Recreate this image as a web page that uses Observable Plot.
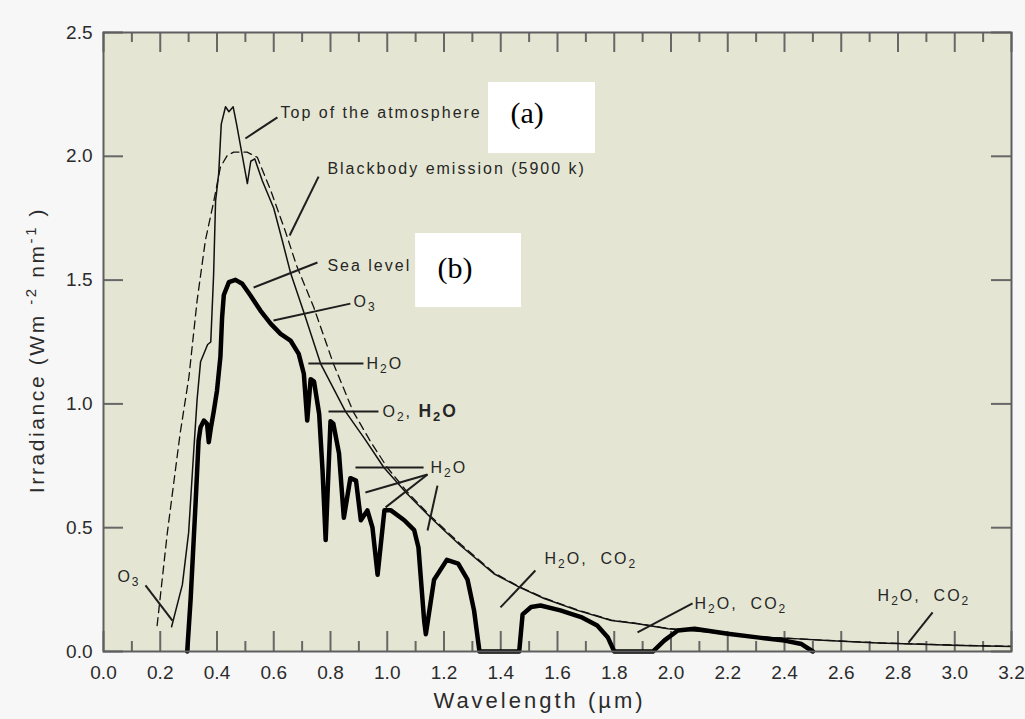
<!DOCTYPE html>
<html><head><meta charset="utf-8">
<script src="https://cdn.jsdelivr.net/npm/d3@7"></script>
<script src="https://cdn.jsdelivr.net/npm/@observablehq/plot@0.6"></script>
<style>
html,body{margin:0;padding:0;background:#f7f7f7;}
#chart{width:1025px;height:719px;overflow:hidden;}
</style></head><body><div id="chart"></div>
<script>
// ---- data (wavelength µm, irradiance W m-2 nm-1) ----
const topOfAtmosphere = [[0.24,0.10],[0.278,0.27],[0.30,0.48],[0.318,0.81],[0.33,1.02],[0.342,1.17],[0.367,1.24],[0.378,1.25],
 [0.388,1.52],[0.395,1.82],[0.406,1.93],[0.415,2.13],[0.43,2.20],[0.442,2.18],[0.457,2.20],[0.469,2.13],[0.507,1.89],
 [0.519,1.98],[0.533,1.99],[0.56,1.90],[0.60,1.79],[0.63,1.66],[0.659,1.53],[0.706,1.37],[0.765,1.163],[0.853,0.969],
 [0.92,0.86],[0.988,0.743],[1.07,0.637],[1.152,0.542],[1.20,0.49],[1.258,0.428],[1.376,0.314],[1.465,0.26],[1.553,0.214],
 [1.67,0.166],[1.79,0.125],[1.883,0.112],[1.99,0.092],[2.14,0.078],[2.32,0.058],[2.435,0.052],[2.55,0.044],[2.73,0.034],
 [2.91,0.028],[3.02,0.024],[3.2,0.02]];
const blackbody5900K = [[0.189,0.105],[0.225,0.48],[0.27,0.88],[0.301,1.108],[0.33,1.418],[0.359,1.66],[0.389,1.82],[0.412,1.956],
 [0.436,2.003],[0.459,2.017],[0.506,2.017],[0.542,1.996],[0.59,1.86],[0.64,1.70],[0.68,1.56],[0.741,1.39],[0.81,1.163],
 [0.88,0.969],[0.94,0.85],[1.0,0.743],[1.07,0.645],[1.154,0.545],[1.26,0.432],[1.376,0.318],[1.465,0.262],[1.553,0.216],
 [1.67,0.168],[1.79,0.127],[1.883,0.113],[1.99,0.093],[2.14,0.079],[2.32,0.059],[2.435,0.052],[2.55,0.045],[2.73,0.035],
 [2.91,0.029],[3.02,0.025],[3.2,0.021]];
const seaLevel = [[0.295,0],[0.307,0.21],[0.325,0.61],[0.335,0.85],[0.342,0.906],[0.354,0.933],[0.365,0.92],[0.371,0.845],
 [0.378,0.90],[0.389,0.973],[0.40,1.054],[0.412,1.19],[0.418,1.35],[0.424,1.44],[0.442,1.492],[0.465,1.501],[0.489,1.485],
 [0.518,1.438],[0.553,1.377],[0.589,1.324],[0.624,1.283],[0.659,1.256],[0.688,1.202],[0.706,1.122],[0.718,0.933],[0.73,1.10],
 [0.742,1.09],[0.76,0.96],[0.772,0.73],[0.783,0.45],[0.80,0.93],[0.81,0.92],[0.83,0.80],[0.847,0.54],[0.87,0.70],[0.89,0.69],
 [0.907,0.53],[0.93,0.57],[0.948,0.50],[0.966,0.31],[0.99,0.57],[1.013,0.57],[1.06,0.53],[1.095,0.49],[1.11,0.42],[1.13,0.125],
 [1.136,0.07],[1.165,0.29],[1.21,0.37],[1.25,0.355],[1.283,0.29],[1.306,0.165],[1.325,0],[1.465,0],[1.477,0.15],[1.507,0.18],
 [1.54,0.186],[1.61,0.166],[1.683,0.139],[1.74,0.105],[1.777,0.058],[1.80,0],[1.936,0],[1.977,0.045],[2.024,0.085],
 [2.083,0.092],[2.2,0.072],[2.318,0.055],[2.40,0.044],[2.46,0.03],[2.50,0]];

const xMajorTicks = [0,0.2,0.4,0.6,0.8,1.0,1.2,1.4,1.6,1.8,2.0,2.2,2.4,2.6,2.8,3.0,3.2];
const xMinorTicks = [0.1,0.3,0.5,0.7,0.9,1.1,1.3,1.5,1.7,1.9,2.1,2.3,2.5,2.7,2.9,3.1];
const yMajorTicks = [0,0.5,1.0,1.5,2.0,2.5];

const xTitle = "Wavelength (µm)";
const yTitle = "Irradiance (Wm ^{-2} nm^{-1} )";

// annotations: labels, leader lines, panel tags
const labels = [
 {text:"Top of the atmosphere", x:0.624, y:2.177},
 {text:"Blackbody emission (5900 k)", x:0.789, y:1.951},
 {text:"Sea level", x:0.789, y:1.559},
 {text:"O_3", x:0.881, y:1.414},
 {text:"H_2O", x:0.927, y:1.163},
 {text:"O_2, !H_2O", x:0.983, y:0.969},
 {text:"H_2O", x:1.152, y:0.743},
 {text:"H_2O,  CO_2", x:1.554, y:0.376},
 {text:"H_2O,  CO_2", x:2.083, y:0.194},
 {text:"H_2O,  CO_2", x:2.728, y:0.226},
 {text:"O_3", x:0.049, y:0.303}
];
const leaderLines = [
 [0.500,2.072,0.613,2.157],[0.656,1.680,0.758,1.918],[0.529,1.470,0.754,1.571],[0.599,1.337,0.870,1.405],
 [0.722,1.163,0.916,1.163],[0.793,0.969,0.969,0.969],[0.888,0.743,1.128,0.743],[1.142,0.715,0.923,0.642],
 [1.142,0.715,0.994,0.582],[1.177,0.670,1.142,0.489],[1.399,0.178,1.522,0.327],[1.882,0.077,2.076,0.194],
 [2.837,0.036,2.922,0.158],[0.148,0.267,0.243,0.125]
];
const panelTags = [{text:"(a)", x:1.434, y:2.173},{text:"(b)", x:1.177, y:1.547}];
const panelBoxes = [{x1:1.357,x2:1.734,y1:2.011,y2:2.298},{x1:1.100,x2:1.473,y1:1.389,y2:1.688}];

// ---- layout ----
const W = 1025, H = 719, mL = 103, mR = 14, mT = 32, mB = 68;
const xDom = [0, 3.2], yDom = [0, 2.5];
const xPerPx = (xDom[1] - xDom[0]) / (W - mL - mR);
const yPerPx = (yDom[1] - yDom[0]) / (H - mT - mB);
const majorLen = 20, minorLen = 10;
const tickColor = "#676767";
const fmt = d => d.toFixed(1);
const sans = "'Liberation Sans', Arial, Helvetica, sans-serif";
const tk = {stroke: tickColor, strokeWidth: 2};

const chart = Plot.plot({
  width: W, height: H,
  marginLeft: mL, marginRight: mR, marginTop: mT, marginBottom: mB,
  x: {domain: xDom},
  y: {domain: yDom},
  style: {background: "#f7f7f7", fontFamily: sans, color: "#2b2b2b", whiteSpace: "pre"},
  marks: [
    Plot.frame({fill: "#e4e6d3"}),
    Plot.rect(panelBoxes, {x1: "x1", x2: "x2", y1: "y1", y2: "y2", fill: "#ffffff"}),
    // inward ticks
    Plot.ruleX(xMajorTicks, {x: d => d, y1: yDom[0], y2: yDom[0] + majorLen * yPerPx, ...tk}),
    Plot.ruleX(xMinorTicks, {x: d => d, y1: yDom[0], y2: yDom[0] + minorLen * yPerPx, ...tk}),
    Plot.ruleX(xMajorTicks, {x: d => d, y1: yDom[1] - majorLen * yPerPx, y2: yDom[1], ...tk}),
    Plot.ruleX(xMinorTicks, {x: d => d, y1: yDom[1] - minorLen * yPerPx, y2: yDom[1], ...tk}),
    Plot.ruleY(yMajorTicks, {y: d => d, x1: xDom[0], x2: xDom[0] + majorLen * xPerPx, ...tk}),
    Plot.ruleY(yMajorTicks, {y: d => d, x1: xDom[1] - majorLen * xPerPx, x2: xDom[1], ...tk}),
    // spectra
    Plot.line(blackbody5900K, {x: d => d[0], y: d => d[1], stroke: "#111", strokeWidth: 1.3, strokeDasharray: "8,5"}),
    Plot.line(topOfAtmosphere, {x: d => d[0], y: d => d[1], stroke: "#111", strokeWidth: 1.5, strokeLinejoin: "round"}),
    Plot.line(seaLevel, {x: d => d[0], y: d => d[1], stroke: "#000", strokeWidth: 4.5, strokeLinejoin: "round"}),
    // annotations
    Plot.link(leaderLines, {x1: d => d[0], y1: d => d[1], x2: d => d[2], y2: d => d[3], stroke: "#1e1e1e", strokeWidth: 2}),
    Plot.text(labels, {x: "x", y: "y", text: "text", textAnchor: "start", fontSize: 16, fill: "#262626"}),
    Plot.text(panelTags, {x: "x", y: "y", text: "text", textAnchor: "start", fontSize: 30, fill: "#000",
      fontFamily: "'Liberation Serif', 'Times New Roman', serif"}),
    // tick labels
    Plot.axisX(xMajorTicks, {anchor: "bottom", tickSize: 0, tickPadding: 14, tickFormat: fmt, fontSize: 19, fill: "#2b2b2b", label: null}),
    Plot.axisY(yMajorTicks, {anchor: "left", tickSize: 0, tickPadding: 11, tickFormat: fmt, fontSize: 19, fill: "#2b2b2b", label: null}),
    // axis titles
    Plot.text([xTitle], {text: d => d, frameAnchor: "bottom", textAnchor: "middle", lineAnchor: "middle", dy: 49, dx: -18, fontSize: 22, fill: "#2b2b2b"}),
    Plot.text([yTitle], {text: d => d, frameAnchor: "left", textAnchor: "middle", lineAnchor: "middle", rotate: -90, dx: -66, dy: 8, fontSize: 21, fill: "#2b2b2b"}),
    Plot.frame({stroke: "#5f5f5f", strokeWidth: 2})
  ]
});
document.getElementById("chart").appendChild(chart);

// ---- rich text: subscripts, superscripts, bold tail; letter spacing ----
const svg = d3.select(chart);
function richify(el, base) {
  const s = el.textContent;
  if (!/[_^!]/.test(s)) return;
  const re = /_\{([^}]*)\}|\^\{([^}]*)\}|_(.)|!/g;
  const parts = [];
  let last = 0, m, bold = false;
  while ((m = re.exec(s))) {
    if (m.index > last) parts.push({t: s.slice(last, m.index), k: "n", bold});
    if (m[0] === "!") bold = true;
    else if (m[2] !== undefined) parts.push({t: m[2], k: "sup", bold});
    else parts.push({t: m[1] !== undefined ? m[1] : m[3], k: "sub", bold});
    last = re.lastIndex;
  }
  if (last < s.length) parts.push({t: s.slice(last), k: "n", bold});
  const t = d3.select(el);
  t.text(null);
  let shift = 0;
  parts.forEach(p => {
    const size = p.bold ? base + 1.5 : base;
    const ts = t.append("tspan").text(p.t);
    let target = 0, fs = size;
    if (p.k === "sub") { target = Math.round(base * 0.28); fs = Math.round(size * 0.75); }
    if (p.k === "sup") { target = -Math.round(base * 0.38); fs = Math.round(size * 0.7); }
    if (target - shift !== 0) ts.attr("dy", target - shift);
    shift = target;
    ts.attr("font-size", fs);
    if (p.bold) ts.attr("font-weight", "bold");
  });
}
const labelTexts = new Set(labels.map(d => d.text));
svg.selectAll("text").each(function() {
  const s = this.textContent;
  if (labelTexts.has(s)) { richify(this, 16); d3.select(this).style("font-size", "16px").style("letter-spacing", "2px"); }
  else if (s === yTitle) { richify(this, 21); d3.select(this).style("font-size", "21px").style("letter-spacing", "2.6px"); }
  else if (s === xTitle) { d3.select(this).style("font-size", "22px").style("letter-spacing", "3px"); }
});
</script></body></html>
